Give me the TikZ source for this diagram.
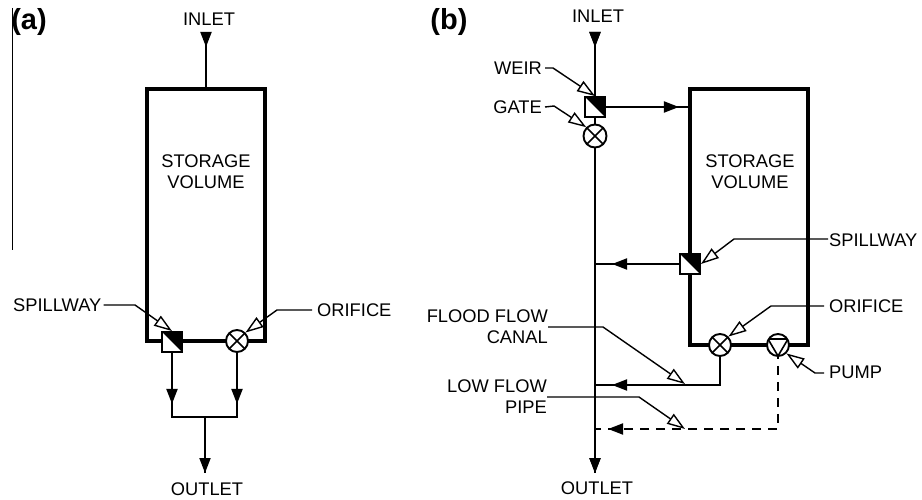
\documentclass[tikz,border=0pt]{standalone}
\usepackage{fontspec}
\setmainfont{Liberation Sans}
\usetikzlibrary{arrows.meta,calc,decorations.markings}

\tikzset{
	lbl/.style={inner sep=0pt,align=center,font=\fontsize{18.3}{21}\selectfont},
	panel/.style={inner sep=0pt,font=\fontsize{29}{30}\selectfont\bfseries},
	storage/.style={draw,line width=4.8pt,minimum width=118pt,inner sep=0pt},
	flow/.style={line width=1.9pt},
	flowtip/.style={
		decoration={markings,mark=at position #1 with {\arrow{Triangle[length=15pt,width=11pt]}}},
		postaction={decorate}
	},
	leader/.style={line width=1.4pt,-{Triangle[open,fill=white,length=18pt,width=12pt,line width=1.4pt]}},
	weirbox/.style={
		draw,fill=white,line width=1.9pt,minimum size=20pt,inner sep=0pt,
		path picture={\fill[black] (path picture bounding box.north west)
			-- (path picture bounding box.north east)
			-- (path picture bounding box.south east) -- cycle;}
	},
	gatevalve/.style={
		circle,draw,fill=white,line width=1.9pt,minimum size=22pt,inner sep=0pt,
		path picture={
			\draw[line width=1.6pt] (path picture bounding box.north west) -- (path picture bounding box.south east);
			\draw[line width=1.6pt] (path picture bounding box.north east) -- (path picture bounding box.south west);}
	},
	pumpvalve/.style={
		circle,draw,fill=white,line width=1.9pt,minimum size=22pt,inner sep=0pt,
		path picture={\draw[line width=1.6pt] (-10,-6) -- (10,-6) -- (0,11) -- cycle;}
	}
}

\begin{document}
\begin{tikzpicture}[x=1pt,y=-1pt]
	\useasboundingbox (0,0) rectangle (922,500);
	
	\coordinate (ruleT) at (12,8);
	\coordinate (ruleB) at (12,250);
	\draw[line width=1pt] (ruleT) -- (ruleB);
	
	\node[panel] (panelA) at (29,22) {(a)};
	\node[panel] (panelB) at (449,22) {(b)};
	
	% left panel
	\node[storage,minimum height=252pt] (boxA) at (206,215) {};
	\node[lbl] (storeA) at (206,172) {STORAGE\\VOLUME};
	\node[lbl] (inA) at (209,19) {INLET};
	\node[lbl] (outA) at (207,489) {OUTLET};
	\coordinate (inAtop) at (boxA.north |- 0,33);
	\coordinate (outAend) at (205,473);
	\coordinate (joinA) at (205,417);
	
	\node[weirbox] (spillA) at (172,342) {};
	\node[gatevalve] (orifA) at (237,341) {};
	
	\draw[flow,flowtip=14pt] (inAtop) -- (boxA.north);
	\draw[flow,flowtip=51pt] (spillA.south) -- (spillA.south |- joinA) -- (joinA);
	\draw[flow,flowtip=51pt] (orifA.south) -- (orifA.south |- joinA) -- (joinA);
	\draw[flow,flowtip=1] (joinA) -- (outAend);
	
	\node[lbl,anchor=west] (lblSpillA) at (13,305) {SPILLWAY};
	\node[lbl,anchor=west] (lblOrifA) at (317,310) {ORIFICE};
	\draw[leader] (lblSpillA.east) ++(2,0) -- (135,305) -- (spillA.north);
	\draw[leader] (lblOrifA.west) ++(-5,0) -- (277,310) -- (orifA.north east);
	
	% right panel
	\node[storage,minimum height=256pt] (boxB) at (749,217) {};
	\node[lbl] (storeB) at (750,172) {STORAGE\\VOLUME};
	\node[lbl] (inB) at (598,16) {INLET};
	\node[lbl] (outB) at (597,488) {OUTLET};
	\coordinate (inBtop) at (595,33);
	\coordinate (outBend) at (595,473);
	\coordinate (lowJoin) at (595,385);
	\coordinate (pumpJoin) at (595,429);
	\coordinate (floodTip) at (685,384);
	\coordinate (pipeTip) at (685,429);
	
	\draw[flow,flowtip=14pt,flowtip=1] (inBtop) -- (outBend);
	
	\node[weirbox] (weirB) at (595,107) {};
	\node[gatevalve,minimum size=23pt] (gateB) at (595,136) {};
	\node[weirbox] (spillB) at (690,264) {};
	\node[gatevalve] (orifB) at (720,345) {};
	\node[pumpvalve] (pumpB) at (778,345) {};
	
	\draw[flow,flowtip=73pt] (weirB.east) -- (boxB.west |- weirB);
	\draw[flow,flowtip=67pt] (spillB.west) -- (inBtop |- spillB);
	\draw[flow,flowtip=136pt] (orifB.south) -- (orifB.south |- lowJoin) -- (lowJoin);
	\draw[flow,dash pattern=on 9pt off 7pt,dash phase=7pt,flowtip=242pt] (pumpB.south) -- (pumpB.south |- pumpJoin) -- (pumpJoin);
	
	\node[lbl,anchor=east] (lblWeir) at (542,68) {WEIR};
	\node[lbl,anchor=east] (lblGate) at (542,107) {GATE};
	\node[lbl,anchor=west] (lblSpillB) at (829,240) {SPILLWAY};
	\node[lbl,anchor=west] (lblOrifB) at (829,306) {ORIFICE};
	\node[lbl,anchor=west] (lblPump) at (829,372) {PUMP};
	\node[lbl,anchor=east,align=right] (lblFlood) at (548,327) {FLOOD FLOW\\CANAL};
	\node[lbl,anchor=east,align=right] (lblPipe) at (547,397) {LOW FLOW\\PIPE};
	
	\draw[leader] (lblWeir.east) ++(3,0) -- (553,68) -- (weirB.north);
	\draw[leader] (lblGate.east) ++(3,0) -- (554,106) -- (gateB.north west);
	\draw[leader] (lblSpillB.west) ++(-1,-1) -- (734,239) -- (spillB.east);
	\draw[leader] (lblOrifB.west) ++(-5,0) -- (771,306) -- (orifB.north east);
	\draw[leader] (lblPump.west) ++(-5,1) -- (815,373) -- (pumpB.south east);
	\draw[leader] (lblFlood.east) -- (603,327) -- (floodTip);
	\draw[leader] (lblPipe.east) -- (639,397) -- (pipeTip);
\end{tikzpicture}
\end{document}
